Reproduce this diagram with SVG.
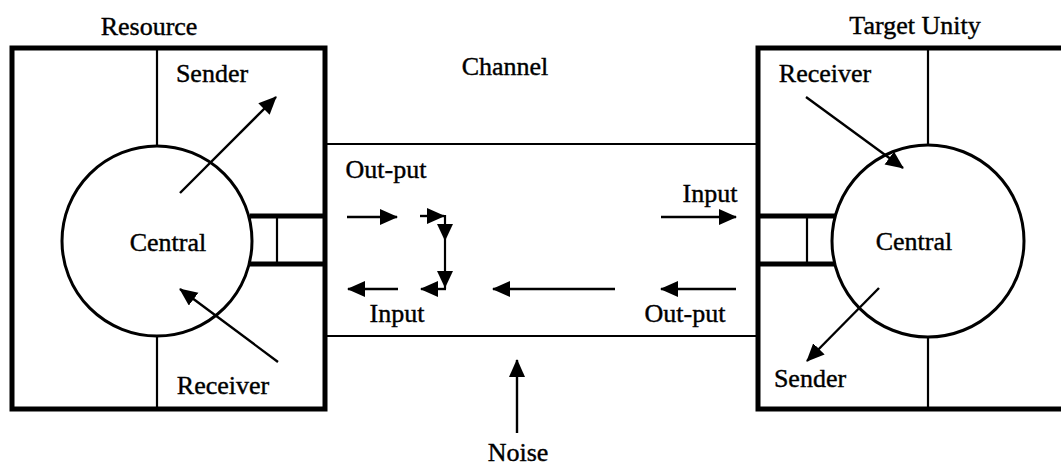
<svg xmlns="http://www.w3.org/2000/svg" width="1061" height="469" viewBox="0 0 1061 469">
<style>
text{font-family:"Liberation Serif","Times New Roman",serif;font-size:26px;fill:#000;stroke:#000;stroke-width:0.4;text-anchor:middle}
.thick{fill:none;stroke:#000;stroke-width:5}
.thin{fill:none;stroke:#000;stroke-width:2.2}
.circ{fill:#fff;stroke:#000;stroke-width:3}
.arr{fill:none;stroke:#000;stroke-width:2.4;marker-end:url(#ah)}
</style>
<defs>
<marker id="ah" markerUnits="userSpaceOnUse" markerWidth="20" markerHeight="18" refX="17" refY="8" orient="auto">
<path d="M0,0 L18,8 L0,16 z" fill="#000"/>
</marker>
</defs>
<rect width="1061" height="469" fill="#fff"/>

<g id="channel">
<line class="thin" x1="325" y1="144" x2="758" y2="144"/>
<line class="thin" x1="325" y1="336" x2="758" y2="336"/>
<text x="505" y="75">Channel</text>
<text x="386" y="178">Out-put</text>
<text x="710" y="202">Input</text>
<text x="397" y="322">Input</text>
<text x="685" y="322">Out-put</text>
</g>

<g id="resource">
<rect class="thick" x="12" y="48" width="313" height="361"/>
<line class="thin" x1="157" y1="48" x2="157" y2="146"/>
<line class="thin" x1="157" y1="336" x2="157" y2="409"/>
<rect class="thin" x="250" y="216" width="75" height="48"/>
<line class="thick" x1="250" y1="216" x2="325" y2="216"/>
<line class="thick" x1="250" y1="264" x2="325" y2="264"/>
<line class="thin" x1="277" y1="216" x2="277" y2="264"/>
<circle class="circ" cx="157" cy="241" r="95"/>
<text x="149" y="35">Resource</text>
<text x="212" y="82">Sender</text>
<text x="168" y="251">Central</text>
<text x="223" y="394">Receiver</text>
</g>

<g id="target">
<rect class="thick" x="758" y="48" width="310" height="361"/>
<line class="thin" x1="928" y1="48" x2="928" y2="146"/>
<line class="thin" x1="928" y1="336" x2="928" y2="409"/>
<rect class="thin" x="758" y="216" width="77" height="48"/>
<line class="thick" x1="758" y1="216" x2="835" y2="216"/>
<line class="thick" x1="758" y1="264" x2="835" y2="264"/>
<line class="thin" x1="807" y1="216" x2="807" y2="264"/>
<circle class="circ" cx="928" cy="241" r="96"/>
<text x="915" y="34">Target Unity</text>
<text x="825" y="82">Receiver</text>
<text x="914" y="250">Central</text>
<text x="810" y="387">Sender</text>
</g>

<g id="noise">
<text x="518" y="461">Noise</text>
</g>

<g id="connectors">
<line class="arr" x1="180" y1="193" x2="276" y2="97"/>
<line class="arr" x1="278" y1="362" x2="180" y2="289"/>
<line class="arr" x1="806" y1="97" x2="903" y2="168"/>
<line class="arr" x1="879" y1="288" x2="807" y2="361"/>
<line class="arr" x1="517" y1="433" x2="517" y2="360"/>
<line class="arr" x1="347" y1="217" x2="397" y2="217"/>
<line class="arr" x1="420" y1="216" x2="444" y2="216"/>
<line class="thin" x1="445" y1="215" x2="445" y2="289"/>
<path d="M437,224 L453,224 L445,241 z" fill="#000"/>
<path d="M437,271 L453,271 L445,288 z" fill="#000"/>
<line class="arr" x1="446" y1="289" x2="421" y2="289"/>
<line class="arr" x1="398" y1="289" x2="348" y2="289"/>
<line class="arr" x1="615" y1="289" x2="493" y2="289"/>
<line class="arr" x1="736" y1="289" x2="661" y2="289"/>
<line class="arr" x1="661" y1="217" x2="736" y2="217"/>
</g>
</svg>
